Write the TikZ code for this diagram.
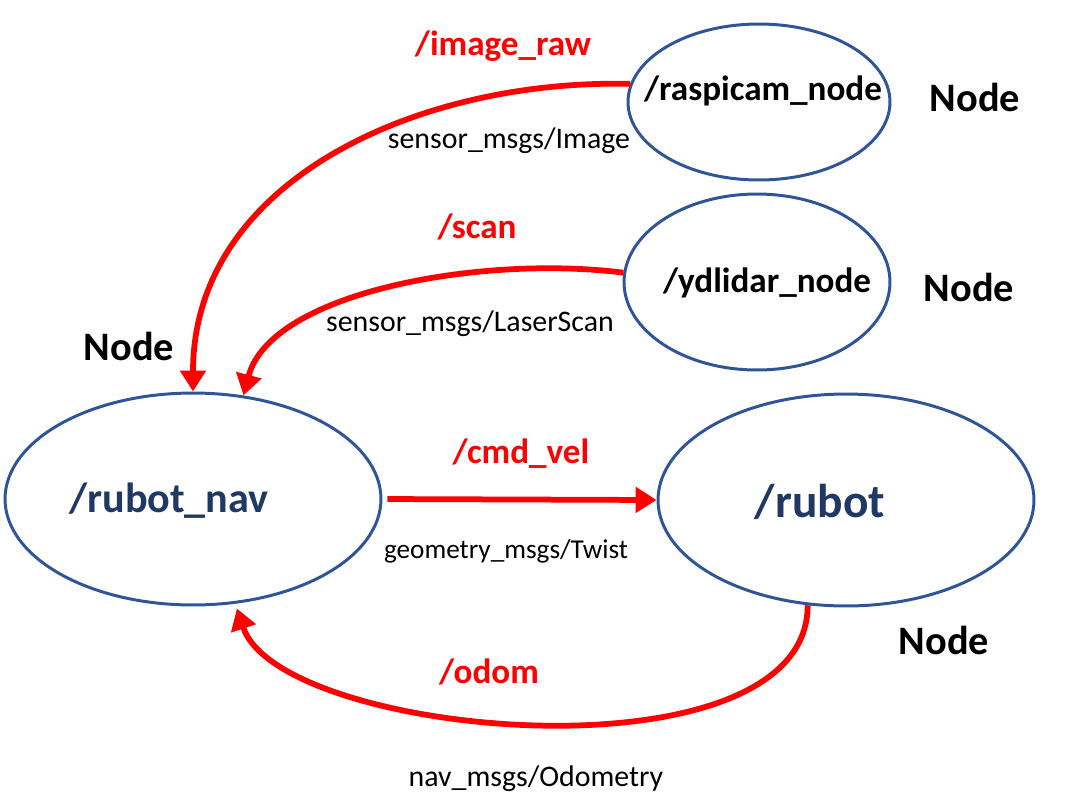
\documentclass[tikz,border=0pt]{standalone}
\usepackage{fontspec}
\setmainfont{Carlito}
\usetikzlibrary{shapes.geometric,arrows.meta}
\definecolor{rosblue}{HTML}{2F5597}
\definecolor{rostext}{HTML}{1F3864}

\begin{document}
\begin{tikzpicture}[x=0.02cm,y=-0.02cm,
    rosnode/.style={ellipse,draw=rosblue,line width=1.7pt,inner sep=0pt},
    topic/.style={text=red,font=\fontsize{20}{24}\selectfont\bfseries,anchor=base},
    msg/.style={font=\fontsize{17}{20}\selectfont,anchor=base},
    nodetag/.style={font=\fontsize{23}{28}\selectfont\bfseries,anchor=base},
    link/.style={red,line width=0.115cm,-{Triangle[length=0.42cm,width=0.5cm]}}]
    \useasboundingbox (0,0) rectangle (1066,799);
    \node[rosnode, minimum width=7.52cm, minimum height=4.24cm] (nav) at (193,499) {};
    \node[rosnode, minimum width=7.52cm, minimum height=4.24cm] (rubot) at (846,500) {};
    \node[rosnode, minimum width=5.24cm, minimum height=3.12cm] (cam) at (759,102) {};
    \node[rosnode, minimum width=5.32cm, minimum height=3.52cm] (lidar) at (757,282) {};
    \node[anchor=base, text=rostext, font=\fontsize{24}{29}\selectfont\bfseries] (navname) at (169,512) {/rubot\_nav};
    \node[anchor=base, text=rostext, font=\fontsize{27}{32}\selectfont\bfseries] (rubotname) at (820,517) {/rubot};
    \node[anchor=base, font=\fontsize{20}{24}\selectfont\bfseries] (camname) at (763,100) {/raspicam\_node};
    \node[anchor=base, font=\fontsize{20}{24}\selectfont\bfseries] (lidarname) at (767,292) {/ydlidar\_node};
    \node[nodetag] (tagcam) at (975,111) {Node};
    \node[nodetag] (taglidar) at (969,301) {Node};
    \node[nodetag] (tagnav) at (129,360) {Node};
    \node[nodetag] (tagrubot) at (944,654) {Node};
    \draw[link] (cam.172) .. controls +(-210,-5) and +(0,-212) .. (nav.north);
    \draw[link] (lidar.176) .. controls +(-143,-18) and +(27,-103) .. (nav.64);
    \draw[link, shorten <=0.1cm] (nav.east) -- (rubot.west);
    \draw[link, shorten >=0.1cm] (rubot.250) .. controls +(0,180) and +(45,135) .. (nav.292);
    \node[topic] (imgtopic) at (503,55) {/image\_raw};
    \node[topic] (scantopic) at (477,238) {/scan};
    \node[topic] (veltopic) at (521,463) {/cmd\_vel};
    \node[topic] (odomtopic) at (489,683) {/odom};
    \node[msg] (imgmsg) at (509,148) {sensor\_msgs/Image};
    \node[msg] (scanmsg) at (470,331) {sensor\_msgs/LaserScan};
    \node[msg, font=\fontsize{15.5}{19}\selectfont] (velmsg) at (506,558) {geometry\_msgs/Twist};
    \node[msg] (odommsg) at (536,786) {nav\_msgs/Odometry};
\end{tikzpicture}
\end{document}
